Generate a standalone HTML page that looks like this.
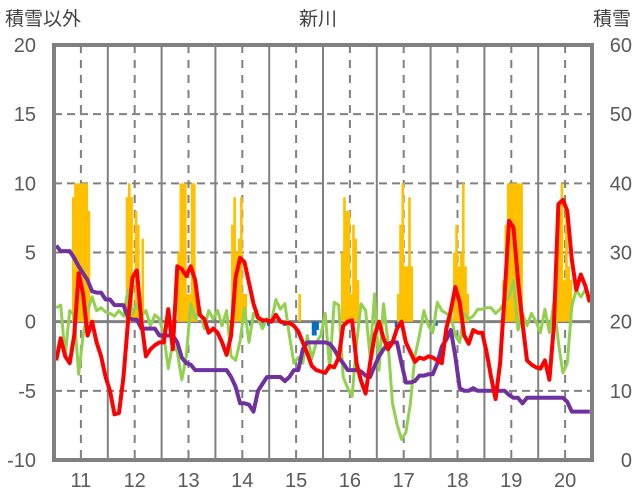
<!DOCTYPE html>
<html><head><meta charset="utf-8">
<style>
html,body{margin:0;padding:0;background:#fff;}
svg{display:block;font-family:"Liberation Sans","Noto Sans CJK JP",sans-serif;}
</style></head>
<body>
<svg id="chart" width="636" height="501" viewBox="0 0 636 501">
<text x="5" y="25" font-size="19" fill="#404040">積雪以外</text>
<text x="318" y="25" font-size="19" fill="#404040" text-anchor="middle">新川</text>
<text x="631" y="25" font-size="19" fill="#404040" text-anchor="end">積雪</text>
<g id="grid"></g>
<g id="bars"></g>
<g id="lines"></g>
<g id="axes"></g>
</svg>
<script>
const years = ["11","12","13","14","15","16","17","18","19","20"];
const leftTicks = [20,15,10,5,0,-5,-10];
const rightTicks = [60,50,40,30,20,10,0];
const red = [
-2.8,-1.2,-2.5,-3,-1,3.5,2,-1,0,-1.5,-2.5,-4,
-5,-6.7,-6.6,-4,0,3.2,3.7,0,-2.5,-2,-1.7,-1.5,
-1.5,0.9,-2.0,4.0,3.8,3.3,4.0,3,0.5,0.2,-0.8,-0.5,
-0.8,-1.5,-2.4,-1,3.2,4.6,4.3,2.8,1.3,0.3,0.1,0.1,
0,0.5,0,-0.1,-0.1,-0.3,-0.7,-1.5,-2.3,-3.2,-3.5,-3.6,
-3.7,-3.2,-3.3,-2.6,-0.3,0,0.1,-3,-4.3,-5.2,-3,-1,
0,-1.2,-2,-1.5,-0.5,0,-1.5,-2.2,-2.9,-2.6,-2.7,-2.5,
-2.6,-2.8,-3,-0.5,0.8,2.5,1.4,-1,-1.6,-0.6,-0.8,-0.8,
-2.2,-4,-5.6,-3,1.9,7.3,6.8,3,-0.1,-2.8,-3.1,-3.3,
-3.4,-2.8,-4.2,-0.3,8.5,8.8,8.0,4.5,2.3,3.4,2.6,1.4];
const green = [
1,1.2,-2.5,0.8,0.5,-3.8,-1,0.8,1.8,0.8,1,0.7,
0.6,0.4,0.8,0.4,2.3,0.5,1.3,0.4,0.8,-0.3,0.5,0.2,
-1,-3.4,-1.5,-2.2,-4.2,-2.5,1.3,0.2,1,-0.5,0.8,0.2,
0.8,-0.3,0.8,-2.5,-2.8,-1.4,1,-1.5,0.6,0.2,-0.5,0.2,
0,1.6,0.9,1.3,-1,-3,-2.6,-3,-1,-2.7,-1.5,-1,
0.6,-3.4,1.4,1.2,-4,-4.8,-5.4,-1.5,1.3,0.8,-2.5,2,
-3.5,1.3,-1.5,-5.9,-7.4,-8.5,-8,-5.9,-2.5,-1,0.8,-0.3,
-0.8,1.4,0.8,0.6,0.4,-1,-1.5,0.6,0.2,0.4,0.9,0.9,
1,1,0.6,0.9,1.4,1.8,3,-0.6,0.6,-0.3,0.6,0,
-0.8,0.9,-0.8,1.4,-1.5,-3.7,-3,1.1,2.3,1.8,2.3,1.6];
const purple = [
5.5,5.1,5.1,5.1,4.6,4,3.5,3,2.2,2.1,2.1,1.6,
1.6,1.2,1.2,1.2,0.3,0.15,0.15,-0.5,-0.5,-0.5,-0.5,-1,
-1,-1,-1,-1.5,-2.6,-3,-3.1,-3.5,-3.5,-3.5,-3.5,-3.5,
-3.5,-3.5,-3.5,-4,-4.7,-5.9,-5.9,-6,-6.5,-5,-4.5,-4,
-4,-4,-4,-4.3,-4,-3.5,-3.5,-2,-1.5,-1.5,-1.5,-1.5,
-1.5,-1.6,-2,-2.6,-3,-3.5,-3.5,-3.5,-3.6,-3.9,-4,-3.2,
-2.5,-2,-1.6,-1.5,-1.5,-3,-4.4,-4.4,-4.3,-3.9,-3.9,-3.8,
-3.8,-3,-1.8,-1.3,-0.6,-2.5,-4.8,-5,-5,-4.8,-5,-5,
-5,-5,-5,-5,-5,-5.3,-5.5,-5.5,-5.9,-5.5,-5.5,-5.5,
-5.5,-5.5,-5.5,-5.5,-5.5,-5.5,-5.8,-6.5,-6.5,-6.5,-6.5,-6.5];
const bars = [
0,0,0,0,0,0,0,0,9,10,10,10,10,10,10,8,0,0,0,0,0,0,0,0,
0,0,0,0,0,0,0,0,9,10,9,1,8,7,1,6,0,0,0,0,0,0,0,0,
0,0,0,0,0,0,0,5,10,10,10,2,2,10,10,2,0,0,0,0,0,0,0,0,
0,0,0,0,0,0,0,7,9,5,6,9,2,2,0,-0.3,0,0,0,0,0,-0.3,0,-0.3,
0,0,0,0,0,0,-0.3,-0.3,0,0,0,0,0,2,0,0,0,0,0,-1,-1,-0.6,0,0,
0,0,0,0,0,0,0,0,5,9,8,8,2,7,6,3,0,0,0,0,0,0,0,-0.3,
-0.3,0,0,0,0,0,0,0,-0.4,2,7,10,4,4,9,4,0,0,0,0,0,0,0,0,
0,0,-0.3,0,0,0,0,0,0,0,5,7,4,5,10,4,2,0,0,0,0,0,0,0,
0,0,0,0,0,0,0,0,3,7,10,10,10,10,10,10,10,0,0,0,0,0,0,0,
0,0,0,0,0,0,0,0,7,8,10,3,8,4,3,0,0,0,0,0,0,0,0,0];

const X0=54, X1=592, Y0=45, Y1=460, VMIN=-10, VMAX=20;
function yL(v){return Y1-(v-VMIN)/(VMAX-VMIN)*(Y1-Y0);}
function yR(v){return Y1-v/60*(Y1-Y0);}
function xLine(i){return X0+(i+0.5)*(X1-X0)/red.length;}
function xBar(i){return X0+i*(X1-X0)/bars.length;}
const NS="http://www.w3.org/2000/svg";
function mk(tag,parent,attrs){const e=document.createElementNS(NS,tag);for(const k in attrs)e.setAttribute(k,attrs[k]);parent.appendChild(e);return e;}
const grid=document.getElementById('grid'),barsG=document.getElementById('bars'),lines=document.getElementById('lines'),axes=document.getElementById('axes');
const yw=(X1-X0)/years.length;
leftTicks.forEach(t=>{
  if(t!==VMAX&&t!==VMIN&&t!==0){const l=mk('line',grid,{x1:X0,x2:X1,y1:yL(t),y2:yL(t),stroke:'#808080','stroke-width':2,'stroke-dasharray':'8,5'});
  
  }
  const tx=mk('text',axes,{x:36,y:yL(t)+7,'font-size':20,fill:'#595959','text-anchor':'end'});tx.textContent=t;
  
  
});
rightTicks.forEach(t=>{
  const tx=mk('text',axes,{x:632,y:yR(t)+7,'font-size':20,fill:'#595959','text-anchor':'end'});tx.textContent=t;
  
  
});
years.forEach((yr,k)=>{
  const xs=X0+k*yw, xc=xs+yw/2;
  if(k>0){const l=mk('line',grid,{x1:xs,x2:xs,y1:Y0,y2:Y1,stroke:'#808080','stroke-width':2});
  
  }
  const d=mk('line',grid,{x1:xc,x2:xc,y1:Y0,y2:Y1,stroke:'#808080','stroke-width':2,'stroke-dasharray':'8,7'});
  
  
  const tx=mk('text',axes,{x:xc,y:487,'font-size':20,fill:'#595959','text-anchor':'middle'});tx.textContent=yr;
  
  
});
const bw=(X1-X0)/bars.length;
bars.forEach((v,i)=>{
  if(v===0)return;
  const y=yL(v), y0=yL(0);
  const r=mk('rect',barsG,{x:xBar(i),y:Math.min(y,y0),width:bw+0.4,height:Math.abs(y0-y),fill:v>0?'#FFC000':'#0070C0'});
  
  
});
const zl=mk('line',grid,{x1:X0,x2:X1,y1:yL(0),y2:yL(0),stroke:'#808080','stroke-width':3});


function poly(arr,color,w,name){
  const p=mk('polyline',lines,{points:arr.map((v,i)=>xLine(i).toFixed(1)+','+yL(v).toFixed(1)).join(' '),fill:'none',stroke:color,'stroke-width':w,'stroke-linejoin':'round'});
  
  
}
poly(green,'#92D050',3,'green-series-line');
poly(purple,'#7030A0',4,'purple-series-line');
poly(red,'#FF0000',4,'red-series-line');
const f=mk('rect',axes,{x:X0,y:Y0,width:X1-X0,height:Y1-Y0,fill:'none',stroke:'#808080','stroke-width':4});


</script>
</body></html>
